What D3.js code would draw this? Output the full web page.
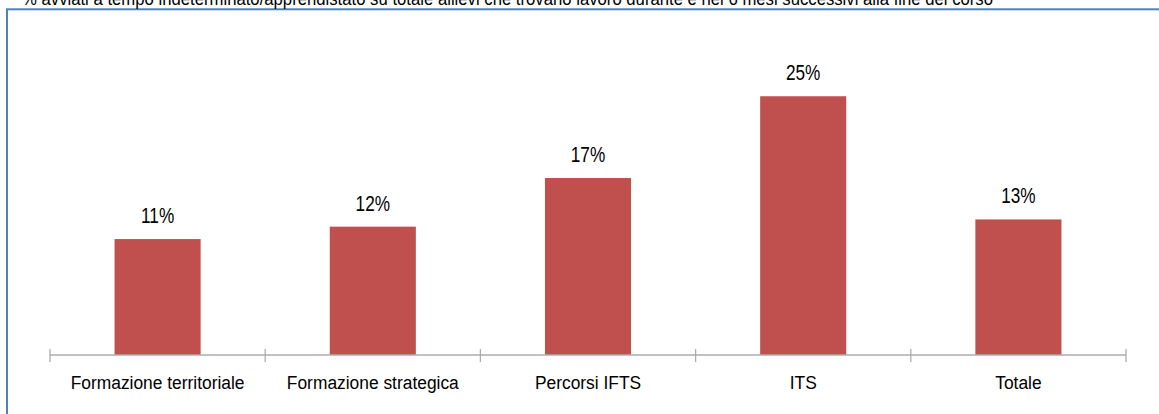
<!DOCTYPE html>
<html>
<head>
<meta charset="utf-8">
<script src="https://cdn.jsdelivr.net/npm/d3@7"></script>
<style>
  html, body { margin: 0; padding: 0; background: #fff; }
  svg { display: block; font-family: "Liberation Sans", Arial, sans-serif; }
</style>
</head>
<body>
<svg id="chart" width="1159" height="414"></svg>
<script>
const title = "% avviati a tempo indeterminato/apprendistato su totale allievi che trovano lavoro durante e nei 6 mesi successivi alla fine del corso";
const categories = ["Formazione territoriale", "Formazione strategica", "Percorsi IFTS", "ITS", "Totale"];
const values = [0.112, 0.124, 0.171, 0.25, 0.131];
const yDomain = [0, 0.30];

const svg = d3.select("#chart");

// frame
svg.append("rect")
  .attr("x", 7).attr("y", 9.3)
  .attr("width", 1170).attr("height", 420)
  .attr("fill", "none")
  .attr("stroke", "#4F81BD")
  .attr("stroke-width", 2);

// clipped title (as in the reference)
svg.append("text")
  .attr("x", 22).attr("y", 5)
  .attr("font-size", 19)
  .attr("fill", "#000")
  .attr("textLength", 971)
  .attr("lengthAdjust", "spacingAndGlyphs")
  .text(title);

const x = d3.scaleBand().domain(categories).range([50, 1126]).padding(0);
const y = d3.scaleLinear().domain(yDomain).range([355, 44.5]);

const barW = x.bandwidth() * 0.4;

// bars
svg.append("g").selectAll("rect")
  .data(categories)
  .join("rect")
  .attr("x", (d) => x(d) + x.bandwidth() / 2 - barW / 2)
  .attr("y", (d, i) => y(values[i]))
  .attr("width", barW)
  .attr("height", (d, i) => y(0) - y(values[i]))
  .attr("fill", "#C0504D");

// value labels (condensed look)
const fmt = d3.format(".0%");
svg.append("g").selectAll("text")
  .data(categories)
  .join("text")
  .attr("transform", (d, i) => `translate(${x(d) + x.bandwidth() / 2},${y(values[i]) - 16}) scale(0.8,1)`)
  .attr("text-anchor", "middle")
  .attr("font-size", 21.5)
  .attr("fill", "#000")
  .text((d, i) => fmt(values[i]));

// axis
const axisColor = "#ADADAD";
const axisG = svg.append("g");
axisG.append("line")
  .attr("x1", x.range()[0]).attr("x2", x.range()[1])
  .attr("y1", y(0)).attr("y2", y(0))
  .attr("stroke", axisColor).attr("stroke-width", 1.3);
const tickPos = categories.map((d) => x(d)).concat([x.range()[1]]);
axisG.selectAll("line.tick")
  .data(tickPos)
  .join("line")
  .attr("class", "tick")
  .attr("x1", (d) => d).attr("x2", (d) => d)
  .attr("y1", y(0) - 6).attr("y2", y(0) + 7)
  .attr("stroke", axisColor).attr("stroke-width", 1.3);

axisG.selectAll("text")
  .data(categories)
  .join("text")
  .attr("transform", (d) => `translate(${x(d) + x.bandwidth() / 2},388.5) scale(0.915,1)`)
  .attr("text-anchor", "middle")
  .attr("font-size", 19)
  .attr("fill", "#000")
  .text((d) => d);
</script>
</body>
</html>
